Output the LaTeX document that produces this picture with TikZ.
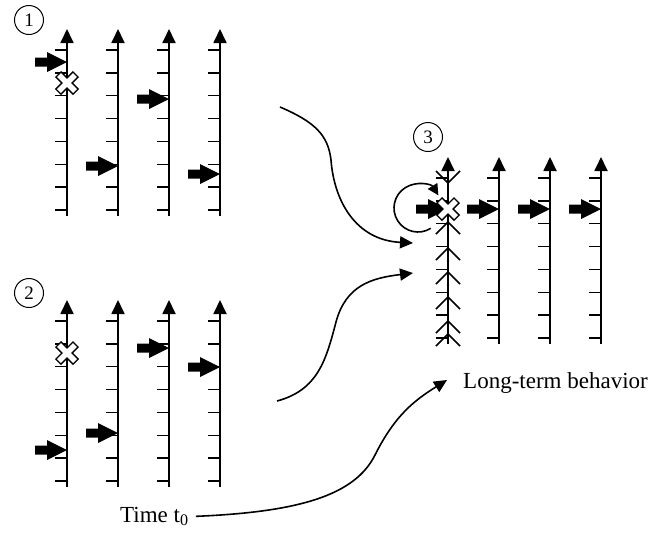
\documentclass[tikz,border=0pt]{standalone}
\usepackage{fontspec}
\setmainfont{Liberation Serif}
\usetikzlibrary{arrows.meta,positioning}

\begin{document}
\begin{tikzpicture}
		[x=1pt,y=1pt,
		axis/.style={line width=1.8pt,-{Triangle[length=14pt,width=13pt]}},
		tick/.style={line width=1.5pt},
		flow/.style={line width=1.6pt,-{Triangle[length=13pt,width=12pt]}},
		chev/.style={line width=1.6pt},
		numc/.style={draw,circle,line width=1pt,minimum size=29pt,inner sep=0pt,font=\fontsize{19}{19}\selectfont},
		lbl/.style={font=\fontsize{23}{25}\selectfont,inner sep=0pt,anchor=base west},
		blockarr/.pic={\fill (0,0) -- (-20,10) -- (-20,4.5) -- (-32,4.5) -- (-32,-4.5) -- (-20,-4.5) -- (-20,-10) -- cycle;},
		xmark/.pic={\draw[line width=8.5pt] (-9,-9) -- (9,9) (-9,9) -- (9,-9);
			\draw[white,line width=5.5pt] (-8,-8) -- (8,8) (-8,8) -- (8,-8);}]
		
			\useasboundingbox (0,0) rectangle (658,-539);
			
			% time axes of the three cases
			\foreach \gx/\gy in {0/0,0/271,381/128}
				\foreach \i in {0,...,3} {
					\pgfmathsetmacro\ax{\gx+67+51*\i}
					\draw[axis] (\ax,-\gy-216) -- (\ax,-\gy-29);
					\foreach \k in {0,...,7}
						\draw[tick] (\ax-12,-\gy-50-22.86*\k) -- (\ax,-\gy-50-22.86*\k);
				}
			
			% flow along the first axis of case 3
			\draw[chev] (436,-171) -- (448,-183) -- (460,-171);
			\foreach \v in {222,248,272,297,321,334}
				\draw[chev] (436,-\v-12) -- (448,-\v) -- (460,-\v-12);
			
			\coordinate (loopc) at (418,-208);
			\draw[line width=1.6pt,-{Triangle[length=11pt,width=11pt]}] (loopc) ++(-58:24) arc[start angle=-58,end angle=-328,radius=24];
			
			% events
			\foreach \px/\py in {67/62,118/166,169/99,220/174,67/450,118/433,169/348,220/367,448/209,499/209,550/209,601/209}
				\pic at (\px,-\py) {blockarr};
			\foreach \px/\py in {67/83,67/353,448/209}
				\pic at (\px,-\py) {xmark};
			
			\node[numc](n1) at (29,-20) {1};
			\node[numc](n2) at (29,-293) {2};
			\node[numc](n3) at (428,-137) {3};
			
			\node[lbl](longterm) at (463,-388) {Long-term behavior};
			\node[lbl](time) at (120,-522) {Time t\textsubscript{0}};
			
			\coordinate (from1) at (280,-107);
			\coordinate (to1) at (413,-243);
			\coordinate (from2) at (277,-401);
			\coordinate (to2) at (413,-273);
			\coordinate (to3) at (447,-380);
			
			\draw[flow] (from1) .. controls (315,-122) and (328,-135) .. (331,-160)
				.. controls (334,-200) and (355,-240) .. (to1);
			\draw[flow] (from2) .. controls (318,-390) and (326,-360) .. (336,-322)
				.. controls (346,-285) and (372,-278) .. (to2);
			\draw[flow] ([xshift=7pt]time.east) .. controls (300,-512) and (355,-495) .. (375,-455)
				.. controls (395,-415) and (415,-400) .. (to3);

	\end{tikzpicture}
\end{document}
